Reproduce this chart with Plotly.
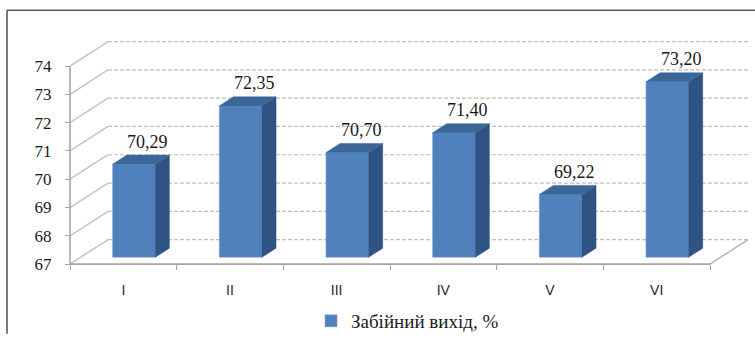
import plotly.graph_objects as go

# ---- data ----
categories = ["I", "II", "III", "IV", "V", "VI"]
values = [70.29, 72.35, 70.70, 71.40, 69.22, 73.20]
series_name = "Забійний вихід, %"
y_ticks = [67, 68, 69, 70, 71, 72, 73, 74]

SERIF = "'Times New Roman', 'Liberation Serif', serif"
SANS = "Arial, 'Liberation Sans', sans-serif"

# ---- geometry (pixel layout helpers) ----
W, H = 755, 340
PX_CAT = 640 / 6          # px per category
PX_VAL = 202 / 7          # px per value unit
L_PIX, R_PIX, T_PIX, B_PIX = 60, 755, 20, 275
X0_PIX, Y0_PIX = 70, 269  # front-floor origin
x_range = [(L_PIX - X0_PIX) / PX_CAT, (R_PIX - X0_PIX) / PX_CAT]
y_range = [67 + (Y0_PIX - B_PIX) / PX_VAL, 67 + (Y0_PIX - T_PIX) / PX_VAL]
DX = 38 / PX_CAT           # depth shift in category units
DY = 25 / PX_VAL           # depth shift in value units
F0, F1 = 0.28, 0.65        # bar front/back depth fractions
BW = 0.40                  # bar width
ymin = y_ticks[0]
n = len(categories)

def px_x(p):
    return (p - L_PIX) / (R_PIX - L_PIX)

def px_y(p):
    return (B_PIX - p) / (B_PIX - T_PIX)

FRONT = "#4f81bd"
SIDE = "#2f5383"
TOP = "#3b6698"

fig = go.Figure()

# front faces (real bars)
centers = [i + 0.5 + F0 * DX for i in range(n)]
fig.add_trace(go.Bar(
    x=centers, y=[v - ymin for v in values], base=[ymin + F0 * DY] * n,
    width=BW, marker=dict(color=FRONT, line=dict(color="#7fa2cf", width=0.6)),
    name=series_name, showlegend=True, hoverinfo="skip"))

# side and top faces
sx, sy, tx, ty = [], [], [], []
ddx, ddy = (F1 - F0) * DX, (F1 - F0) * DY
for c, v in zip(centers, values):
    xl, xr = c - BW / 2, c + BW / 2
    yb, yt = ymin + F0 * DY, v + F0 * DY
    sx += [xr, xr + ddx, xr + ddx, xr, xr, None]
    sy += [yb, yb + ddy, yt + ddy, yt, yb, None]
    tx += [xl, xr, xr + ddx, xl + ddx, xl, None]
    ty += [yt, yt, yt + ddy, yt + ddy, yt, None]
fig.add_trace(go.Scatter(x=sx, y=sy, fill="toself", fillcolor=SIDE, mode="lines",
                         line=dict(color=SIDE, width=0.5), showlegend=False, hoverinfo="skip"))
fig.add_trace(go.Scatter(x=tx, y=ty, fill="toself", fillcolor=TOP, mode="lines",
                         line=dict(color=TOP, width=0.5), showlegend=False, hoverinfo="skip"))

# walls / gridlines as shapes below
shapes = []
for v in y_ticks:
    shapes.append(dict(type="line", xref="x", yref="y", x0=DX, x1=n + DX, y0=v + DY, y1=v + DY,
                       line=dict(color="#bdbdbd", width=1.2, dash="4px,2px"), layer="below"))
    shapes.append(dict(type="line", xref="x", yref="y", x0=0, x1=DX, y0=v, y1=v + DY,
                       line=dict(color="#c4c4c4", width=1.5), layer="below"))
# floor right edge
shapes.append(dict(type="line", xref="x", yref="y", x0=n, x1=n + DX, y0=ymin, y1=ymin + DY,
                   line=dict(color="#b0b0b0", width=1.3), layer="below"))
# front floor line
shapes.append(dict(type="line", xref="x", yref="y", x0=0, x1=n, y0=ymin, y1=ymin,
                   line=dict(color="#a6a6a6", width=1.6), layer="below"))
# vertical axis line
shapes.append(dict(type="line", xref="x", yref="y", x0=0, x1=0, y0=ymin, y1=y_ticks[-1],
                   line=dict(color="#a6a6a6", width=1.6), layer="below"))
# outer frame
shapes.append(dict(type="line", xref="paper", yref="paper", x0=px_x(7), x1=px_x(755),
                   y0=px_y(10), y1=px_y(10), line=dict(color="#5a5a5a", width=1.6)))
shapes.append(dict(type="line", xref="paper", yref="paper", x0=px_x(7), x1=px_x(7),
                   y0=px_y(10), y1=px_y(340), line=dict(color="#5a5a5a", width=1.6)))

# data labels
annotations = []
for c, v in zip(centers, values):
    annotations.append(dict(x=c + 0.13, y=v + F0 * DY + 0.8, xref="x", yref="y",
                            text=f"{v:.2f}".replace(".", ","), showarrow=False,
                            xanchor="center", yanchor="middle",
                            font=dict(family=SERIF, size=18, color="#1a1a1a")))

fig.update_layout(
    width=W, height=H, autosize=False,
    margin=dict(l=L_PIX, r=W - R_PIX, t=T_PIX, b=H - B_PIX, pad=0),
    paper_bgcolor="white", plot_bgcolor="rgba(0,0,0,0)",
    shapes=shapes, annotations=annotations,
    showlegend=True,
    legend=dict(orientation="h", x=0.5, xanchor="center", y=px_y(327), yanchor="middle",
                font=dict(family=SERIF, size=19, color="#1a1a1a"),
                itemwidth=30, bgcolor="rgba(0,0,0,0)"),
    xaxis=dict(range=x_range, showgrid=False, zeroline=False, showline=False,
               anchor="free", position=px_y(Y0_PIX),
               tickmode="array", tickvals=[i + 0.5 for i in range(n)], ticktext=categories,
               ticks="", ticklabelstandoff=16,
               tickfont=dict(family=SANS, size=14, color="#262626"),
               minor=dict(tickmode="array", tickvals=list(range(n + 1)), ticks="outside",
                          ticklen=5, tickcolor="#a6a6a6", tickwidth=1.3, showgrid=False)),
    yaxis=dict(range=y_range, showgrid=False, zeroline=False, showline=False,
               anchor="free", position=px_x(X0_PIX),
               tickmode="array", tickvals=y_ticks, ticks="outside", ticklen=5,
               tickcolor="#a6a6a6", tickwidth=1.3, ticklabelstandoff=10,
               tickfont=dict(family=SERIF, size=17, color="#1a1a1a")),
)

fig.write_html("out.html")
